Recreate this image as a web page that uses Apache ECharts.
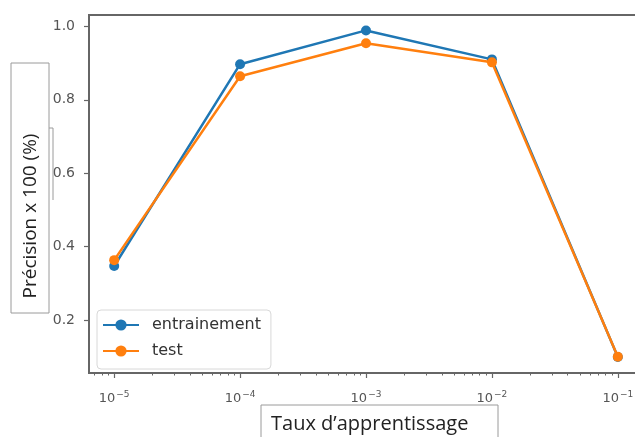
<!DOCTYPE html>
<html>
<head>
<meta charset="utf-8">
<script src="https://cdn.jsdelivr.net/npm/echarts@6/dist/echarts.min.js"></script>
<style>
  html, body { margin: 0; padding: 0; background: #fff; overflow: hidden; }
  /* the plot frame runs past the right edge of the 635px view */
  #chart { width: 660px; height: 437px; }
</style>
</head>
<body>
<div id="chart"></div>
<script>
// Learning rates as base-10 exponents (10^-5 ... 10^-1)
const lrExponents = [-5, -4, -3, -2, -1];
// Accuracy for each learning rate
const trainAccuracy = [0.347, 0.897, 0.989, 0.910, 0.099];
const testAccuracy = [0.363, 0.864, 0.954, 0.902, 0.100];
const seriesNames = ['entrainement', 'test'];
const yTickValues = [0.2, 0.4, 0.6, 0.8, 1.0];
const xMajorTicks = [-5, -4, -3, -2, -1];
const yAxisTitle = 'Précision x 100 (%)';
const xAxisTitle = 'Taux d\u2019apprentissage';

const X_MIN = -5.2, X_MAX = -0.8;
const Y_MIN = 0.0555, Y_MAX = 1.031;

// log-scale minor ticks at k * 10^n, k = 2..9
const xMinorTicks = [];
for (let e = -6; e <= 0; e++) {
  for (let k = 2; k <= 9; k++) {
    const v = e + Math.log10(k);
    if (v > X_MIN && v < X_MAX) xMinorTicks.push(v);
  }
}

const toPairs = (xs, ys) => xs.map((x, i) => [x, ys[i]]);
const frameColor = '#666';
const tickColor = '#555';

const chart = echarts.init(document.getElementById('chart'), null, { renderer: 'canvas' });
chart.setOption({
  animation: false,
  backgroundColor: '#fff',
  grid: {
    left: 89, top: 15, width: 554, height: 358,
    show: true, borderColor: frameColor, borderWidth: 2, backgroundColor: 'transparent'
  },
  xAxis: [
    {
      type: 'value', min: X_MIN, max: X_MAX,
      axisLine: { show: true, lineStyle: { color: frameColor, width: 2 } },
      splitLine: { show: false },
      axisTick: { show: true, customValues: xMajorTicks, length: 5, lineStyle: { color: frameColor, width: 1.2 } },
      axisLabel: {
        customValues: xMajorTicks, margin: 17,
        formatter: v => '{b|10}{s|\u2212' + Math.abs(Math.round(v)) + '}',
        rich: {
          b: { fontFamily: 'DejaVu Sans', fontSize: 13, color: tickColor },
          s: { fontFamily: 'DejaVu Sans', fontSize: 9, color: tickColor, padding: [0, 0, 8, 1] }
        }
      }
    },
    {
      type: 'value', min: X_MIN, max: X_MAX, position: 'bottom',
      axisLine: { show: false },
      splitLine: { show: false },
      axisTick: { show: true, customValues: xMinorTicks, length: 2.5, lineStyle: { color: frameColor, width: 1 } },
      axisLabel: { show: false }
    }
  ],
  yAxis: {
    type: 'value', min: Y_MIN, max: Y_MAX,
    axisLine: { show: true, lineStyle: { color: frameColor, width: 2 } },
    splitLine: { show: false },
    axisTick: { show: true, customValues: yTickValues, length: 5, lineStyle: { color: frameColor, width: 1.2 } },
    axisLabel: {
      customValues: yTickValues, margin: 14,
      fontFamily: 'DejaVu Sans', fontSize: 14, color: tickColor,
      formatter: v => v.toFixed(1)
    }
  },
  legend: {
    orient: 'vertical', left: 97, top: 310,
    backgroundColor: '#fff',
    borderColor: '#d8d8d8', borderWidth: 1, borderRadius: 4,
    padding: [7, 10, 10, 5],
    itemWidth: 36, itemHeight: 14, itemGap: 10,
    textStyle: { fontFamily: 'DejaVu Sans', fontSize: 16, color: '#333', padding: [0, 0, 0, 8] },
    data: seriesNames
  },
  series: [
    {
      name: seriesNames[0], type: 'line',
      data: toPairs(lrExponents, trainAccuracy),
      symbol: 'circle', symbolSize: 10,
      lineStyle: { color: '#1f77b4', width: 2.5 },
      itemStyle: { color: '#1f77b4' },
      z: 2
    },
    {
      name: seriesNames[1], type: 'line',
      data: toPairs(lrExponents, testAccuracy),
      symbol: 'circle', symbolSize: 10,
      lineStyle: { color: '#ff7f0e', width: 2.5 },
      itemStyle: { color: '#ff7f0e' },
      z: 3
    }
  ],
  graphic: [
    {
      type: 'rect', z: 100,
      shape: { x: 11, y: 63, width: 38, height: 250 },
      style: { fill: '#fff', stroke: '#9a9a9a', lineWidth: 1 }
    },
    {
      type: 'polyline', z: 100,
      shape: { points: [[49, 128], [53, 128], [53, 200]] },
      style: { stroke: '#9a9a9a', lineWidth: 1, fill: null }
    },
    {
      type: 'text', z: 101,
      x: 31, y: 216, rotation: Math.PI / 2,
      style: {
        text: yAxisTitle, fontFamily: 'Open Sans', fontSize: 19, fill: '#222',
        align: 'center', verticalAlign: 'middle'
      }
    },
    {
      type: 'rect', z: 100,
      shape: { x: 261, y: 405, width: 237, height: 40 },
      style: { fill: '#fff', stroke: '#9a9a9a', lineWidth: 1 }
    },
    {
      type: 'text', z: 101,
      x: 271, y: 424,
      style: {
        text: xAxisTitle, fontFamily: 'Open Sans', fontSize: 20, fill: '#222',
        align: 'left', verticalAlign: 'middle'
      }
    }
  ]
});
</script>
</body>
</html>
